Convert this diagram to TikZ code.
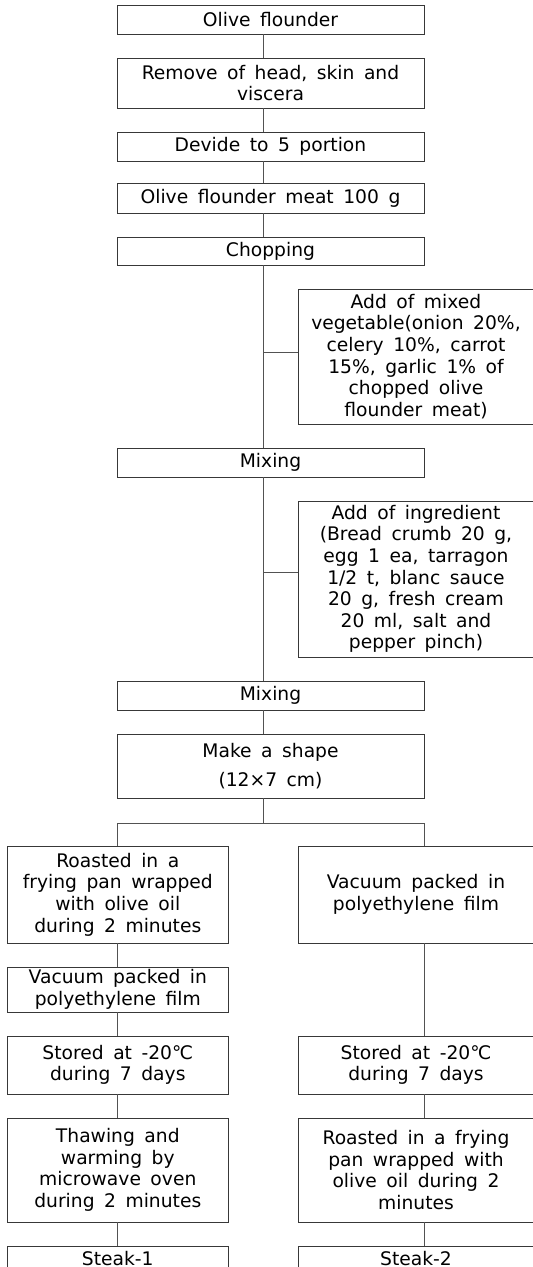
\documentclass[tikz,border=0pt]{standalone}
\usepackage{fontspec}
\setmainfont{DejaVu Sans}[WordSpace=1.6]
\usetikzlibrary{positioning, calc}
\colorlet{BoxLine}{black!78}
\colorlet{FlowLine}{black!68}

\begin{document}
\begin{tikzpicture}[
    x=1pt, y=-1pt,
    stepbox/.style={
        rectangle, draw=BoxLine, line width=0.9pt, outer sep=0pt,
        minimum width=307pt, minimum height=#1, inner sep=1pt,
        align=center, text=black,
        font=\fontsize{18.7}{21.6}\selectfont
    },
    stepbox/.default={29pt},
    sidebox/.style={stepbox=#1, minimum width=236pt},
    sidebox/.default={58pt},
    leftbox/.style={stepbox=#1, minimum width=221.6pt},
    leftbox/.default={58pt},
    flow/.style={draw=FlowLine, line width=0.8pt},
    node distance=24pt
]

% Frame (figure is cut at the right and bottom edges)
\useasboundingbox (0,0) rectangle (533,1267);
\clip (0,0) rectangle (533,1267);

% Spines of the three columns
\coordinate (axis) at (263,0);
\coordinate (leftx) at (117.8,0);
\coordinate (rightx) at (298,0);
\coordinate (rspine) at (424.5,0);

% --- Preparation ---
\node[stepbox] (olive) at (270.5,19.5) {Olive flounder};
\node[stepbox=50pt, below=of olive] (head)
    {Remove of head, skin and\\viscera};
\node[stepbox, below=of head] (portion) {Devide to 5 portion};
\node[stepbox=30pt, below=22pt of portion] (meat)
    {Olive flounder meat 100 g};
\node[stepbox=28pt, below=of meat] (chop) {Chopping};

% --- Additions ---
\node[sidebox=135pt, anchor=north west] (veg)
    at ([xshift=35pt, yshift=-24pt]chop.south -| axis)
    {Add of mixed\\vegetable(onion 20\%,\\celery 10\%, carrot\\
     15\%, garlic 1\% of\\chopped olive\\flounder meat)};
\node[stepbox, anchor=north] (mix1)
    at ([yshift=-24pt]veg.south -| chop.south) {Mixing};

\node[sidebox=156pt, anchor=north west] (ingr)
    at ([xshift=35pt, yshift=-24pt]mix1.south -| axis)
    {Add of ingredient\\(Bread crumb 20 g,\\egg 1 ea, tarragon\\
     1/2 t, blanc sauce\\20 g, fresh cream\\20 ml, salt and\\pepper pinch)};
\node[stepbox, anchor=north] (mix2)
    at ([yshift=-24pt]ingr.south -| mix1.south) {Mixing};

\node[stepbox=64pt, below=of mix2] (shape)
    {Make a shape\\[8pt](12×7 cm)};

% --- Steak-1 route ---
\node[leftbox=97pt, anchor=north] (roastA)
    at ([yshift=-48pt]shape.south -| leftx)
    {Roasted in a\\frying pan wrapped\\with olive oil\\during 2 minutes};
\node[leftbox=45pt, below=of roastA] (vacA)
    {Vacuum packed in\\polyethylene film};
\node[leftbox, below=of vacA] (storeA) {Stored at -20℃\\during 7 days};
\node[leftbox=104pt, below=of storeA] (thawA)
    {Thawing and\\warming by\\microwave oven\\during 2 minutes};
\node[leftbox=25pt, below=of thawA] (steakA) {Steak-1};

% --- Steak-2 route ---
\node[sidebox=97pt, anchor=north west] (vacB)
    at (roastA.north -| rightx)
    {Vacuum packed in\\polyethylene film};
\node[sidebox, anchor=north west] (storeB)
    at (storeA.north -| rightx) {Stored at -20℃\\during 7 days};
\node[sidebox=104pt, below=of storeB] (roastB)
    {Roasted in a frying\\pan wrapped with\\olive oil during 2\\minutes};
\node[sidebox=25pt, below=of roastB] (steakB) {Steak-2};

% Connectors (main line)
\foreach \a/\b in {olive/head, head/portion, portion/meat, meat/chop,
                   chop/mix1, mix1/mix2, mix2/shape} {
    \draw[flow] (\a.south -| axis) -- (\b.north -| axis);
}

% Side inputs
\foreach \b/\s in {veg/4.5, ingr/7} {
    \draw[flow] ([yshift=\s pt]\b.west) -- ([yshift=\s pt]\b.west -| axis);
}

% Split into two routes
\coordinate (split) at ([yshift=-25pt]shape.south -| axis);
\draw[flow] (shape.south -| axis) -- (split);
\draw[flow] (roastA.north) -- (roastA.north |- split)
    -- (split -| rspine) -- (vacB.north -| rspine);

\foreach \a/\b in {roastA/vacA, vacA/storeA, storeA/thawA, thawA/steakA} {
    \draw[flow] (\a.south) -- (\b.north);
}
\foreach \a/\b in {vacB/storeB, storeB/roastB, roastB/steakB} {
    \draw[flow] (\a.south -| rspine) -- (\b.north -| rspine);
}

\end{tikzpicture}
\end{document}
